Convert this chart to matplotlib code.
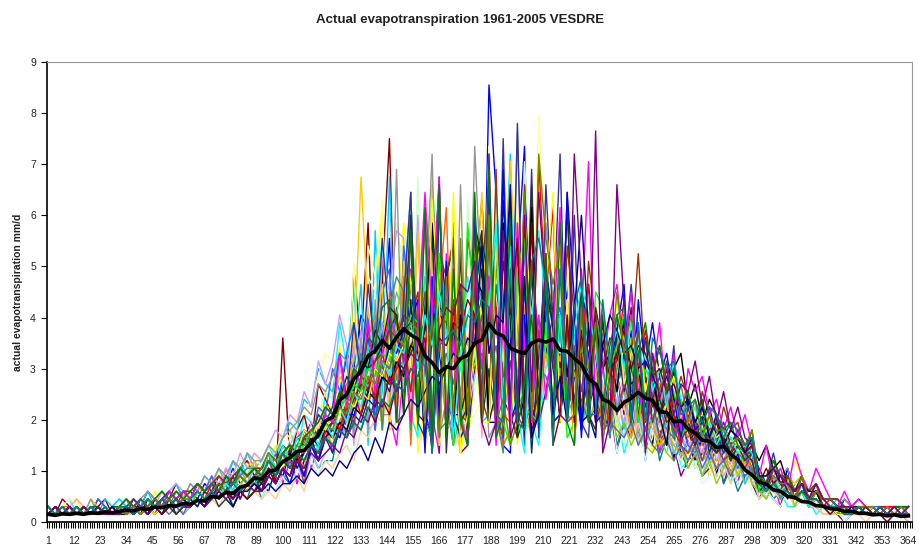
import numpy as np
import matplotlib
matplotlib.use("Agg")
import matplotlib.pyplot as plt

plt.rcParams['font.family'] = ['Liberation Sans', 'DejaVu Sans']

# every third day of the year: 1, 4, 7, ... 364
days = list(range(1, 365, 3))

# actual evapotranspiration per year, one string per year, one character per point
# value = CODE.index(char) * 0.15 mm/d, spaces only split the year into ~30 day blocks
CODE = "0123456789abcdefghijklmnopqrstuvwxyzABCDEFGHIJKLMNOPQRSTUVWXYZ"
STEP = 0.15

et_years = [
    "1212121321 2123212432 3243546354 5476958a9c dgbkhpmwir nvcsBmgaqe qxdEfnzaug mrgvkoebqi hmcjfaig8e a79c6b8597 5463745243 2132121211 11",
    "2121212121 1232321232 2435364756 469585b7ad 9hfnkrdoea kxpFe9zmhc wnBdjGgqbk tmjqfxhmcl fjbhdg9ec8 b8a69785a6 4352634232 1212112101 12",
    "1121312121 2213242324 4353756487 68a79cb9eg hnbumgrGcq Dv9fxqkcla jtyeHuanpg otlxkegrdj cgiaf9dha8 97b6a78674 3453524231 1211211121 11",
    "2123121212 3221324322 3534645867 7a8bc9ed9h gqkvcmsBen pebwJtdgkr uAexrIcqda lqemgsjpbg e9ch8fb9d7 8a6978597a 5364225312 2121212112 11",
    "1211212112 1212213231 2324353546 4657697a8b adgclhnkpr mhqjt9wlvb kqnsjvcwmd hnekglfibf 9dbh8gcaa6 8967a58695 3432534221 1101211211 10",
    "2132121231 2322432353 3546475786 795o8ceaig ecdxnDewOg rBedHsbo9a vGqebEhsnd rukqdwioej jemchiaf9d c9ba89768a 6475356342 2212321222 21",
    "1112112121 2112132213 2324352436 3546586978 8dbhfmjpls ngtkqhrmuj lrhvmsjuhp mgrjekfnci adgc9e8bb9 7968a57467 3534423232 1211211111 11",
    "1212121212 1213232434 4354657565 6879a9bdbf egmkrpcoBd wpDfaFqeeb oeVHa9yNfd wrlFjcmqhb kfpbjdhad9 a8b79a6957 4564734332 2121211221 12",
    "2121212132 3232423453 5465758697 8a9bdcgfki hmclvaCgJe uHemdzfsbk pdeHrMfhyc tlxkpchoei hcmgaifc9d b9c8a7a685 6574536342 2312121212 22",
    "1111211211 1212121213 2323232434 3546475869 7ba9ecjgmi kpjsouhnrl hmjqgtkome lhqjdmgkbh 9cae8db9a7 7856968574 3432423221 1201111101 11",
    "1212121212 2121232323 3435465768 6978b9caeh gkjqcwuesD xhJedofu9G qenFcqfLuj sqmwhnkpdg eaif9bgca8 a7a7968685 4363534232 2121212111 11",
    "2123212121 2132324343 4546576879 7a9cbeegjm lecyeAwGdn xdhsKaeuFd egNfDbGhnR ypvmcjtnhd kgmeifcg9e b9d8a9769a 5687455342 2222122121 21",
    "1211121211 1121212231 2324343545 4657585979 adbgfkimjp lkqmsdtlre jnmBlsepkm kolqhmjkfi ebgaedbc99 8a69786859 3443534232 1211111111 11",
    "1212321212 1232324232 3435475758 5879acadcf ekhojskqdn qmtbzrcdsn vbzoBdxsek rudtcpkqhm jfkcgdhaab 9b89a68875 4564634332 2222112121 12",
    "2121121212 2232323454 4546576979 8acbedhfli lrnapcdzuC BeEbxHdzfa uCrgcxqdmo tqrnkpgmeh gdibfcdb9b ab9c8a8796 6585645352 3221221212 22",
    "1211211111 1112121212 2323242434 3435464768 79a8cbedhf ijgmkolqnm pknrlqmDko lnjmhkgjeg dfbdacab9a 8a79685756 3443424221 1111101111 10",
    "1212121321 2312323434 3546354768 68799bcafe khmqlrcuxe AsenCvgdrb xtCfbyeAgd vpsdmejokf ilgjdhfcbd a9c8b8a796 5475536342 2121212212 21",
    "2121212121 2121232343 3435464757 5768798aac cgekhnlqpu rtnwpcsdqa weArdqxeoc rmqjnkhmgj fhceaebd9b 9a89786857 4453434232 1211212111 11",
    "1111211212 1212121323 2434354565 5867697a9b bdfgiklcpr wmeFyqdoel kqpxntjrpi mhkgeidgcf bdaca9b98a 7968579685 4354624242 2121121211 11",
    "2121213212 1232323434 4535465768 696a8bacdf fjhmJrovcd yeCeIaue9k rHefdLtdcg zufqdrenpk mjoegfidgb cbeac9bba8 6574656453 3322122121 22",
    "1212112121 2212323232 3434544656 5768798a9c adcgejhmlq pmsovsdqeb rnuckwnsmd nplqjmhkfi eibfcdaca9 9b8a7a6a78 4564534232 1221121211 11",
    "2122121212 2323234343 4545655767 6879a9bcdf egiklorcuf wasCbuFdsb EdMeacDgbf wsdqapnrkm oiljfhegcd bdac9b8a97 5464636242 3211212112 12",
    "1211121112 1121212121 3434354546 5767898a9c bdcfehgjik lhnkpjmiol kmjnhlimwk jgihfgdfcd cbdaca9b8a 8a79786867 4544534332 2212211211 11",
    "2121213121 2323434343 5465768798 8a9bcdfeih jmlbocteeK eHdrMbgaIe NsbdBcPefg DtAedqgnsd pjnkhmfjdg dgbeac9ca9 6586746353 3232212122 21",
    "1212121212 1212321232 3243546456 5678796a8b 9cbedgfjhl kmoqnsrdub tBvcsGdq9m ypekdqvmej ohlkfjeibg dae9cb8a98 5474636342 2112121212 12",
    "2121121212 2212323243 3545465677 7989aacbed ehgjmkqcsw ucrCtcdDea wsBe9zqdfn reqdmtnrlb kphmgkdibf dbcab9a98a 4563534332 2221212111 21",
    "1211211212 1121212312 2323432434 5768a79b8c dgjhlkpnsr etdsCfwAei DydhGqbeyd uqdrmcpnek lqijgkehdf ccedab9ba9 6575646453 3322222122 22",
    "1212121211 2121232323 3434545656 798a9bacbe dgfihklnpr lnpaqtwdzd xCeAgebDdh tmeHdvecrd pmsdokegkb dbca9b8a98 4564534342 2211211211 11",
    "2121212121 2232323434 4545656767 7878a9bacb dcgfjilmpo rqudczwBed DgdKbCeIbf wdeArdyqel nrmzjdhlfj gcheafcd9b 6686645453 3321221212 22",
    "1212112121 1212132323 2324343545 4757695a8c cbfdighlko lpnuarteva xoArdlecyo tkqjnhomgk eifhcgbeca 9b8ba89879 4454434332 2211211211 11",
    "2121212121 2132323434 3545465767 6879a8cbed fmgqjvmBqd tHdboIesuc GeMdOeQfKb IqMeEdbrdk rmvkogjfna fbdac9ba99 7595645353 3222212121 22",
    "1211212112 1212121212 2324232434 6979a8bacc dfegihkjml nEmepJ9qdf sdkdDvhcIe rsdqcmepko nmkhjfgdeb cacb9a9a89 4454534232 2111211211 11",
    "2121212121 2121323232 3434545656 7878989bac bdcfehgjil jnmpDrqbrc wuddDvdgFe tbrjsdeqkm hrgkdjeakm fidgeacb9a 8a78534342 2212212111 12",
    "1212121212 2121232324 3435465767 6879796a8c ecfhejgmik ohrmuqdtcB vdDsedfHcL tFeqanvdgd mtdkpjnhea ebfcda9b9a 5574635352 3221221222 21",
    "2121121211 1212132323 2434354545 687989acbe dgfihkjmlp nrqdbzsaeD rdvCdaxBed qdrbdpeusk nrmdkikjhb dfcdcaba9b 4454434232 2211211211 11",
    "1212121212 1212121323 2324343545 4657586a8b cbeehgkjnm pqt9wdyebd FdIcKdgrce ydeHtbqdek pvdtkqjmgb hcdfbdacab 6465545343 2221212111 11",
    "2121211212 2121212323 3434354546 6878a9cbdc eegfhgkjml npodGsdH9e nddAmcrEqg uHdtaqenfk timphlkgjf hdedbcba9b 6574586453 2111212111 11",
    "1212121212 2123232434 3545465767 6979a9bcbe dmfkiqhmro ndqHrJeodb xkwaqcDndr goFdeqLekr vmuhdjqfmc khjegcfbea 6a57496475 3242322121 11",
    "2121212121 1212323232 3434354656 697a8b9cad bfdhfjiljn mqkrnupbmw rdsDdAe9qC sdrgpvrnem pkqjmhkflg dfbdacb9a9 5464534232 2211211211 12",
    "1211211211 1212121232 2324343434 4757698a9b acbdcfdgei hkjm9onqpt rdsdyrBcDe zaerdpgsnj mpknmjkhif gdfbdacb9a 5756434332 1211211101 11",
    "2121212212 2323234343 4545465767 6879a9bcdf ehgkjonstd eCdFbIbxda HdKbeEcird zdDdatdqen rndmqjnhkf hdgbecda9c 6586645453 3221221212 22",
    "1212121212 1212132323 2324342445 4545565767 6879a8b9dc egfhjikmlo nAmrqIcwbe uejdrEpdnr pmnkljhjgf gdfbeacb9b 6675545443 3221211211 11",
    "2121212121 2121232323 3434545656 79898a9cbd cfehgjilko nqpdrbweBe zdEdgadHdM BvAdeskqak umrjdmhkfi dgbeccabac 5465536343 3221222121 21",
    "1212121211 1212123232 2323434354 4657687989 a9cbedgfjh kmlo9psrvu ydadCbeEhH tkedMveP9d Isdq9mgkei hlfjdhcfba 5576545353 2222121212 12",
    "2121212121 2212323232 3434345456 6869798a9b acbdcfegfi hkjm9nopnr qtsedxdcyB vaxdsweetk rsdqdomkle fgdfebdcab 5454434332 2211211211 11",
]

# mean over 1961-2005
et_mean = [
    0.15, 0.13, 0.16, 0.15, 0.17, 0.15, 0.18, 0.17, 0.20, 0.18,
    0.21, 0.23, 0.22, 0.26, 0.25, 0.29, 0.28, 0.32, 0.31, 0.36,
    0.35, 0.42, 0.41, 0.50, 0.48, 0.58, 0.56, 0.68, 0.72, 0.86,
    0.84, 0.99, 1.02, 1.18, 1.26, 1.38, 1.40, 1.55, 1.70, 1.98,
    2.05, 2.38, 2.50, 2.80, 2.95, 3.25, 3.35, 3.55, 3.40, 3.62,
    3.78, 3.66, 3.58, 3.25, 3.12, 2.92, 3.04, 3.00, 3.20, 3.26,
    3.50, 3.56, 3.88, 3.70, 3.64, 3.40, 3.34, 3.30, 3.50, 3.56,
    3.52, 3.58, 3.36, 3.34, 3.20, 3.08, 2.80, 2.70, 2.40, 2.34,
    2.18, 2.34, 2.42, 2.54, 2.42, 2.38, 2.16, 2.14, 1.96, 1.98,
    1.82, 1.74, 1.60, 1.58, 1.46, 1.48, 1.32, 1.22, 1.02, 0.92,
    0.78, 0.74, 0.63, 0.60, 0.50, 0.48, 0.40, 0.39, 0.32, 0.31,
    0.26, 0.25, 0.21, 0.21, 0.17, 0.17, 0.14, 0.15, 0.12, 0.14,
    0.11, 0.12,
]

# excel default series colours
colors = ['#000080', '#FF00FF', '#FFFF00', '#00FFFF', '#800080', '#800000', '#008080', '#0000FF',
          '#00CCFF', '#CCFFFF', '#CCFFCC', '#FFFF99', '#99CCFF', '#FF99CC', '#CC99FF', '#FFCC99',
          '#3366FF', '#33CCCC', '#99CC00', '#FFCC00', '#FF9900', '#FF6600', '#666699', '#969696',
          '#003366', '#339966', '#003300', '#333300', '#993300', '#993366', '#333399', '#333333',
          '#000000', '#FF0000', '#00FF00', '#0000FF', '#FFFF00', '#FF00FF', '#00FFFF', '#800000',
          '#008000', '#000080', '#808000', '#800080', '#008080']

x_labels = list(range(1, 365, 11))

fig = plt.figure(figsize=(9.2, 5.54), dpi=100)
ax = fig.add_axes([47 / 920, 32 / 554, 865 / 920, 460 / 554])

for i, s in enumerate(et_years):
    vals = [CODE.index(c) * STEP for c in s.replace(" ", "")]
    n = min(len(vals), len(days))
    ax.plot(days[:n], vals[:n], color=colors[i % len(colors)], lw=1.0)

ax.plot(days, et_mean, color='black', lw=2.6, zorder=5)

ax.set_xlim(0.5, 365.5)
ax.set_ylim(0, 9)
ax.set_yticks(range(0, 10))
ax.set_xticks(x_labels)
ax.set_xticks(np.arange(0.5, 366, 1), minor=True)
ax.tick_params(axis='x', which='major', length=0, pad=10, labelsize=7.5, colors='#222222')
ax.tick_params(axis='x', which='minor', length=4, width=0.8, direction='out')
ax.tick_params(axis='y', length=4, width=0.8, pad=4, labelsize=7.5, labelcolor='#222222')

for side in ['left', 'bottom']:
    ax.spines[side].set_linewidth(1.2)
for side in ['top', 'right']:
    ax.spines[side].set_color('#999999')

ax.set_ylabel('actual evapotranspiration mm/d', fontsize=7.5, fontweight='bold', labelpad=5, color='#222222')
fig.suptitle('Actual evapotranspiration 1961-2005 VESDRE', fontsize=9.5, fontweight='bold', y=0.975, color='#222222')

fig.savefig('out.png', dpi=100)
